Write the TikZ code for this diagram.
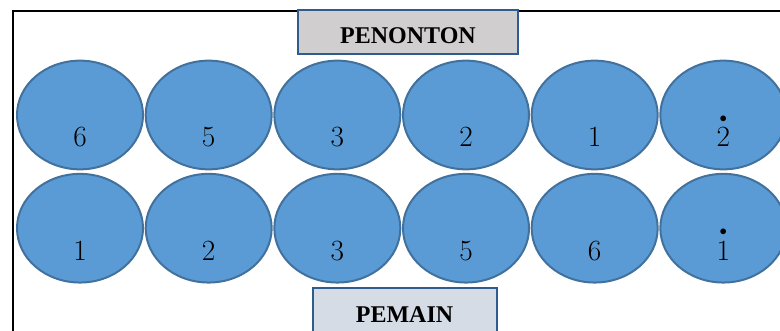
\documentclass[tikz,border=0pt]{standalone}
\usepackage{fix-cm}
\usepackage{amsmath}
\usepackage{fontspec}
\newfontfamily\boxfont{Liberation Serif}
\usepackage{tikz}
\usetikzlibrary{positioning,shapes.geometric}

\definecolor{seatfill}{HTML}{5B9BD5}
\definecolor{seatline}{HTML}{41719C}
\definecolor{boxline}{HTML}{2F5C8F}
\definecolor{penontonfill}{HTML}{D0CECE}
\definecolor{pemainfill}{HTML}{D6DCE5}

% high-octave note: digit with a dot above
\newcommand{\tinggi}[1]{\overset{\scriptscriptstyle\bullet}{#1}}

\tikzset{
  seat/.style={ellipse, draw=seatline, fill=seatfill, line width=1.5pt,
    minimum width=94.5pt, minimum height=81.5pt, inner sep=0pt,
    text height=48pt, text depth=0pt, font=\fontsize{22}{22}\selectfont},
  sign/.style={rectangle, draw=boxline, line width=1.5pt, minimum height=33pt,
    text height=18pt, text depth=0pt, font=\boxfont\fontsize{18}{18}\selectfont\bfseries}
}

\begin{document}
\begin{tikzpicture}
  \clip (0,0) rectangle (585pt,-248.25pt);
  % outer frame
  \draw[line width=1.5pt] (9.75pt,-8.25pt) rectangle (640pt,-300pt);
  % label boxes
  \node[sign, fill=penontonfill, minimum width=165pt] (penonton) at (306pt,-24pt) {PENONTON};
  \node[sign, fill=pemainfill, minimum width=138pt] (pemain) at (303.4pt,-232.5pt) {PEMAIN};
  % top row
  \node[seat] (t1) at (60pt,-86.25pt) {$6$};
  \node[seat, right=0.5pt of t1] (t2) {$5$};
  \node[seat, right=0.5pt of t2] (t3) {$3$};
  \node[seat, right=0.5pt of t3] (t4) {$2$};
  \node[seat, right=0.5pt of t4] (t5) {$1$};
  \node[seat, right=0.5pt of t5] (t6) {$\tinggi{2}$};
  % bottom row
  \node[seat, below=1.9pt of t1] (b1) {$1$};
  \node[seat, right=0.5pt of b1] (b2) {$2$};
  \node[seat, right=0.5pt of b2] (b3) {$3$};
  \node[seat, right=0.5pt of b3] (b4) {$5$};
  \node[seat, right=0.5pt of b4] (b5) {$6$};
  \node[seat, right=0.5pt of b5] (b6) {$\tinggi{1}$};
\end{tikzpicture}
\end{document}
